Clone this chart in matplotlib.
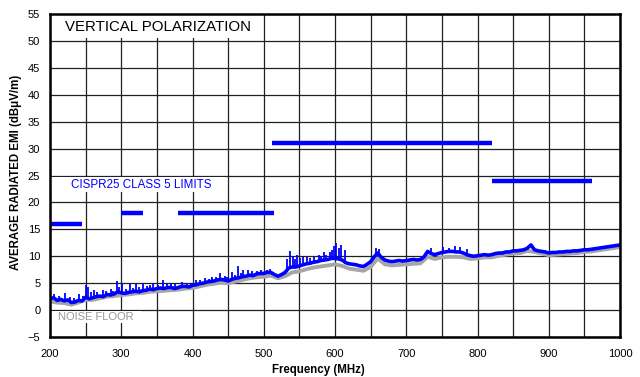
import numpy as np
import matplotlib
matplotlib.use("Agg")
import matplotlib.pyplot as plt
from matplotlib.patches import Rectangle

plt.rcParams['font.family'] = ['Liberation Sans', 'DejaVu Sans']

# Measured average emission, 5 MHz steps from 200 MHz to 1000 MHz (dBuV/m)
emission_start, emission_stop, emission_step = 200, 1000, 5
emission = [
    2.1, 2.3, 1.8, 2.0, 1.7, 1.9, 1.4, 1.5, 1.8, 1.7,
    2.4, 2.1, 2.3, 2.5, 2.6, 2.5, 2.9, 2.8, 3.0, 3.4,
    3.2, 3.1, 3.3, 3.4, 3.5, 3.4, 3.6, 3.7, 3.9, 3.8,
    4.0, 4.1, 4.0, 4.2, 4.2, 4.0, 4.2, 4.4, 4.4, 4.3,
    4.6, 4.7, 4.9, 5.0, 5.2, 5.3, 5.4, 5.6, 5.7, 5.6,
    5.4, 5.7, 5.9, 6.0, 6.2, 6.3, 6.5, 6.4, 6.7, 6.8,
    6.8, 7.0, 7.0, 6.6, 6.3, 6.6, 7.0, 7.8, 8.0, 8.0,
    8.2, 8.4, 8.6, 8.7, 8.9, 9.0, 9.2, 9.3, 9.4, 9.6,
    9.6, 9.5, 9.3, 8.8, 8.6, 8.5, 8.4, 8.2, 8.1, 8.5,
    9.0, 9.9, 10.6, 9.8, 9.3, 9.1, 9.0, 9.1, 9.2, 9.1,
    9.2, 9.3, 9.4, 9.3, 9.4, 9.9, 10.9, 10.5, 10.3, 10.5,
    10.7, 10.8, 10.9, 10.9, 10.8, 10.8, 10.6, 10.3, 10.1, 10.0,
    10.1, 10.2, 10.3, 10.2, 10.3, 10.5, 10.6, 10.6, 10.8, 10.8,
    11.0, 11.0, 11.1, 11.2, 11.5, 12.1, 11.2, 11.0, 10.9, 10.8,
    10.6, 10.7, 10.7, 10.8, 10.8, 10.9, 10.9, 11.0, 11.0, 11.1,
    11.2, 11.2, 11.3, 11.4, 11.5, 11.6, 11.7, 11.8, 11.9, 12.0,
    12.1,
]

# Narrowband spikes riding on the emission trace: frequency (MHz), peak (dBuV/m)
spike_freq = [205, 213, 221, 228, 233, 240, 246, 250, 253, 257, 262, 266,
              274, 279, 285, 289, 294, 297, 301, 306, 312, 316, 320, 325,
              331, 336, 340, 345, 351, 359, 364, 370, 376, 385, 392, 398,
              405, 411, 418, 423, 428, 433, 439, 445, 449, 455, 460, 464,
              468, 471, 478, 484, 490, 496, 504, 509, 533, 537, 541, 544,
              547, 551, 555, 560, 565, 571, 577, 581, 584, 588, 593, 596,
              598, 602, 605, 609, 614, 658, 662, 735, 752, 760, 768, 775,
              785]
spike_peak = [2.9, 2.6, 3.2, 2.4, 2.3, 3.0, 2.6, 4.6, 4.3, 3.4, 3.8, 3.3,
              3.7, 3.5, 3.9, 3.6, 5.4, 4.2, 4.8, 3.9, 4.9, 4.1, 4.8, 4.2,
              5.0, 4.4, 4.6, 5.1, 4.7, 5.6, 4.8, 5.0, 4.8, 5.2, 5.0, 5.1,
              5.5, 5.6, 5.9, 5.8, 6.2, 6.2, 6.8, 6.3, 6.2, 7.0, 6.6, 8.2,
              6.9, 7.5, 7.4, 7.2, 7.3, 7.4, 7.5, 7.6, 9.4, 11.0, 10.0, 9.5,
              10.2, 9.6, 9.8, 9.9, 9.7, 9.8, 10.2, 10.0, 10.7, 10.3, 10.7, 11.2,
              11.9, 12.4, 11.5, 12.0, 11.1, 11.6, 11.3, 11.5, 11.8, 11.6, 11.9, 11.7,
              11.4]

# Noise floor, 10 MHz steps from 200 MHz to 1000 MHz (dBuV/m)
floor_start, floor_stop, floor_step = 200, 1000, 10
noise_floor = [
    1.6, 1.4, 1.3, 1.0, 1.4, 1.9, 1.9, 2.2, 2.5, 2.6,
    2.8, 2.9, 3.1, 3.2, 3.4, 3.5, 3.6, 3.7, 3.8, 4.0,
    4.1, 4.4, 4.7, 4.9, 5.1, 5.0, 5.3, 5.6, 5.9, 6.1,
    6.2, 6.4, 5.9, 6.3, 7.0, 7.2, 7.6, 7.9, 8.1, 8.3,
    8.5, 8.2, 7.7, 7.5, 7.3, 8.0, 9.6, 8.5, 8.3, 8.4,
    8.5, 8.6, 8.7, 9.9, 9.5, 9.8, 9.9, 9.9, 9.8, 9.5,
    9.6, 9.8, 9.8, 10.1, 10.3, 10.5, 10.6, 11.0, 10.8, 10.5,
    10.2, 10.3, 10.4, 10.5, 10.6, 10.8, 10.9, 11.1, 11.3, 11.5,
    11.7,
]

# CISPR 25 Class 5 average limits
limit_start = [200, 300, 380, 512, 820]
limit_stop = [245, 330, 515, 820, 960]
limit_level = [16, 18, 18, 31, 24]

x_ticks = [200, 300, 400, 500, 600, 700, 800, 900, 1000]
y_ticks = [-5, 0, 5, 10, 15, 20, 25, 30, 35, 40, 45, 50, 55]

BLUE = '#0000ff'
GRAY = '#a6a6a6'

emission_freq = np.arange(emission_start, emission_stop + 1, emission_step)
floor_freq = np.arange(floor_start, floor_stop + 1, floor_step)

fig = plt.figure(figsize=(6.4, 3.77), dpi=100)
ax = fig.add_axes([50 / 640, 40 / 377, 570 / 640, 323 / 377])

ax.set_xlim(200, 1000)
ax.set_ylim(-5, 55)
ax.set_xticks(x_ticks)
ax.set_xticks(np.arange(250, 1000, 100), minor=True)
ax.set_yticks(y_ticks)
ax.grid(True, which='both', color='#202020', linewidth=0.9, zorder=1)
ax.set_axisbelow(True)
ax.tick_params(which='both', length=0, labelsize=8, colors='black')
ax.tick_params(axis='x', pad=8.5)
ax.tick_params(axis='y', pad=7)
for s in ax.spines.values():
    s.set_linewidth(1.8)
    s.set_color('black')
    s.set_zorder(6)

# Traces
ax.plot(floor_freq, noise_floor, color=GRAY, linewidth=2.8, zorder=3)
ax.plot(emission_freq, emission, color=BLUE, linewidth=2.6, zorder=4)
spike_base = np.interp(spike_freq, emission_freq, emission)
ax.vlines(spike_freq, spike_base, spike_peak, color=BLUE, linewidth=1.3, zorder=4)

# Limit lines
ax.hlines(limit_level, limit_start, limit_stop, color=BLUE, linewidth=3.2,
          zorder=5)

# Annotations
ax.add_patch(Rectangle((200, 50.6), 297, 4.4, facecolor='white',
                       edgecolor='none', zorder=2))
ax.text(221, 52.6, 'VERTICAL POLARIZATION', fontsize=10.8, color='black',
        va='center', ha='left', zorder=3)

ax.add_patch(Rectangle((200, 21.9), 246, 2.8, facecolor='white',
                       edgecolor='none', zorder=2))
ax.text(230, 23.3, 'CISPR25 CLASS 5 LIMITS', fontsize=8.4, color=BLUE,
        va='center', ha='left', zorder=3)

ax.add_patch(Rectangle((200, -2.4), 128, 2.2, facecolor='white',
                       edgecolor='none', zorder=2))
ax.text(211.5, -1.25, 'NOISE FLOOR', fontsize=8, color='#999999',
        va='center', ha='left', zorder=3)

fig.text(318 / 640, 1 - 370 / 377, 'Frequency (MHz)', fontsize=8.3,
         fontweight='bold', ha='center', va='center')
fig.text(16 / 640, 1 - 172 / 377, 'AVERAGE RADIATED EMI (dB\u03bcV/m)',
         fontsize=8.3, fontweight='bold', ha='center', va='center',
         rotation=90)

fig.savefig('out.png', dpi=100)
